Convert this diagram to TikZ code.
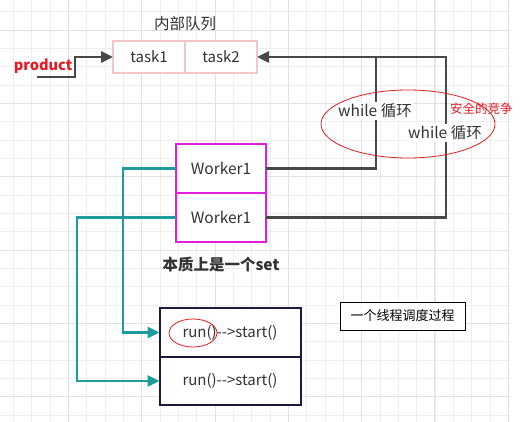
\documentclass[tikz,border=0pt]{standalone}
\usepackage{fontspec}
\setmainfont{Noto Sans CJK SC}
\usepackage{tikz}
\usetikzlibrary{positioning,arrows.meta}
\usepackage{xcolor}

\definecolor{gridminor}{RGB}{238,238,238}
\definecolor{gridmajor}{RGB}{226,226,226}
\definecolor{taskpink}{RGB}{245,198,200}
\definecolor{workermag}{RGB}{226,30,226}
\definecolor{runnavy}{RGB}{26,26,60}
\definecolor{linkgrey}{RGB}{72,72,72}
\definecolor{linkteal}{RGB}{30,156,154}
\definecolor{racered}{RGB}{226,28,36}
\definecolor{textgrey}{RGB}{51,51,51}

\tikzset{
  taskbox/.style={draw=taskpink, line width=1.6pt, minimum width=72pt, minimum height=32pt, outer sep=0pt, inner sep=0pt, text=textgrey, font=\fontsize{15}{17}\selectfont},
  workerbox/.style={draw=workermag, line width=1.8pt, minimum width=90pt, minimum height=49pt, outer sep=0pt, inner sep=0pt, text=textgrey, font=\fontsize{15.5}{17}\selectfont},
  runbox/.style={draw=runnavy, line width=2pt, minimum width=141pt, minimum height=48.5pt, outer sep=0pt, inner sep=0pt, text=textgrey, font=\fontsize{15}{17}\selectfont},
  greylink/.style={draw=linkgrey, line width=2.8pt},
  teallink/.style={draw=linkteal, line width=2.8pt},
  linktip/.style={-{Triangle[length=12pt,width=11pt]}},
  loopnote/.style={fill=white, inner sep=1.5pt, text=textgrey, font=\fontsize{15.5}{17}\selectfont},
}

\begin{document}
\begin{tikzpicture}[x=1pt,y=1pt,yscale=-1,xscale=1]
\useasboundingbox (0,0) rectangle (523,422);

% Grid
\foreach \i in {0,...,27} {
  \draw [gridminor, line width=0.7pt] (13.3+18.33*\i,0) -- (13.3+18.33*\i,422);
}
\foreach \j in {0,...,22} {
  \draw [gridminor, line width=0.7pt] (0,11.7+18.33*\j) -- (510,11.7+18.33*\j);
}
\foreach \i in {3,7,...,27} {
  \draw [gridmajor, line width=0.8pt] (13.3+18.33*\i,0) -- (13.3+18.33*\i,422);
}
\foreach \j in {1,5,...,21} {
  \draw [gridmajor, line width=0.8pt] (0,11.7+18.33*\j) -- (510,11.7+18.33*\j);
}

% Queue
\node [taskbox, fill=white] (task1) at (149,57) {task1};
\node [taskbox, fill=white, right=0pt of task1] (task2) {task2};
% Text Node
\node [text=textgrey, font=\fontsize{15.5}{17}\selectfont] (queuelabel) at (185,24) {内部队列};

% Workers
\node [workerbox, fill=white] (worker1) at (221,168.5) {Worker1};
\node [workerbox, fill=white, below=0pt of worker1] (worker2) {Worker1};
% Text Node
\node [text=textgrey, font=\bfseries\fontsize{15.5}{17}\selectfont] (setlabel) at (221,265) {本质上是一个set};

% Runs
\node [runbox, fill=white] (run1) at (230,332.5) {run()-{}-{}>start()};
\node [runbox, fill=white, below=0pt of run1] (run2) {run()-{}-{}>start()};

% Note
\node [draw=black, line width=0.9pt, fill=white, minimum width=125pt, minimum height=28pt, font=\fontsize{13}{15}\selectfont] (note) at (402.5,316) {一个线程调度过程};

% Product arrow
\node [text=racered, font=\bfseries\fontsize{14.5}{16}\selectfont] (product) at (43,66) {product};
\coordinate (prodstart) at (37,77);
\coordinate (prodbend) at (75,77);
\draw [greylink, linktip] (prodstart) -- (prodbend) |- (task1.west);

% Worker loops
\coordinate (loopA) at (376,57);
\coordinate (loopB) at (446,57);
\draw [greylink] (worker1.east) -| (loopA);
\draw [greylink, linktip] (worker2.east) -| (loopB) -- (task2.east);

% Worker to run
\draw [teallink, linktip] (worker1.west) -- ++(-53,0) |- (run1.west);
\draw [teallink, linktip] (worker2.west) -- ++(-99,0) |- (run2.west);

% Text Node
\node [loopnote] (whileA) at (375,111) {while 循环};
\node [loopnote] (whileB) at (445,133) {while 循环};
\node [anchor=west, inner sep=0pt, text=racered, font=\fontsize{12.5}{14}\selectfont] (racelabel) at (450,109) {安全的竞争};

%Shape: Ellipse
\draw [racered, line width=0.8pt] (408,124) ellipse [x radius=87, y radius=34];
%Shape: Ellipse
\draw [racered, line width=0.8pt] (193,333) ellipse [x radius=24, y radius=14];

\end{tikzpicture}
\end{document}
